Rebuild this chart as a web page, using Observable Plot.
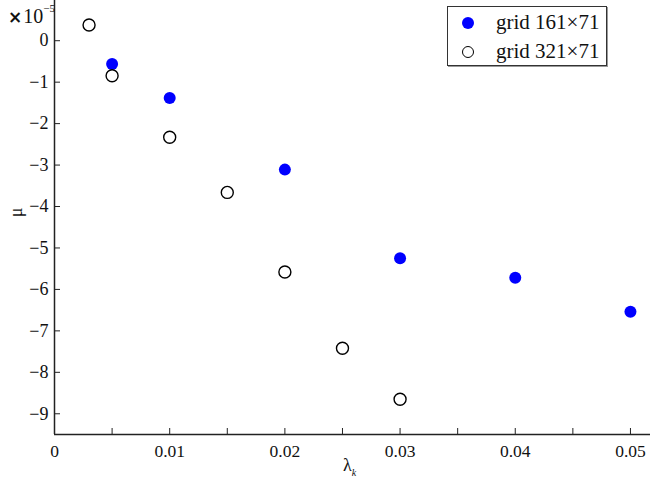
<!DOCTYPE html>
<html>
<head>
<meta charset="utf-8">
<script src="https://cdn.jsdelivr.net/npm/d3@7"></script>
<script src="https://cdn.jsdelivr.net/npm/@observablehq/plot@0.6"></script>
<style>
  html, body { margin: 0; padding: 0; background: #fff; }
  #wrap { position: relative; width: 650px; height: 482px; font-family: "Liberation Serif", "Times New Roman", serif; }
  #wrap svg { position: absolute; left: 0; top: 0; }
  .legend { position: absolute; left: 447px; top: 6px; width: 158px; height: 58px; border: 1px solid #333; background: #fff; box-shadow: 1px 1px 0 #999; }
  .legend .row { position: absolute; left: 0; height: 22px; font-size: 21px; line-height: 22px; color: #111; }
  .legend .sym { position: absolute; left: 14px; top: 5px; width: 12px; height: 12px; border-radius: 50%; box-sizing: border-box; }
  .legend .lab { position: absolute; left: 48px; top: -1px; white-space: nowrap; }
  .expo { position: absolute; left: 8px; top: 6px; font-size: 20px; line-height: 20px; color: #111; white-space: nowrap; }
  .expo .times { font-family: "DejaVu Sans", sans-serif; font-size: 17px; font-weight: bold; margin-right: 1px; }
  .expo sup { font-size: 11px; line-height: 11px; vertical-align: top; position: relative; top: -3px; }
  .ylab { position: absolute; left: 12px; top: 202px; font-size: 18px; transform: rotate(-90deg); transform-origin: center; color: #111; }
  .xlab { position: absolute; left: 343px; top: 455px; font-size: 18px; color: #111; }
  .xlab sub { font-size: 10px; font-style: italic; }
</style>
</head>
<body>
<div id="wrap"></div>
<script>
// Series: grid 161×71 (filled blue)
const lambdaA = [0.005, 0.01, 0.02, 0.03, 0.04, 0.05];
const muA     = [-0.56, -1.38, -3.11, -5.25, -5.72, -6.54];
// Series: grid 321×71 (open circles)
const lambdaB = [0.003, 0.005, 0.01, 0.015, 0.02, 0.025, 0.03];
const muB     = [0.38, -0.845, -2.33, -3.66, -5.58, -7.42, -8.65];
// Ticks
const xMajor = [0, 0.01, 0.02, 0.03, 0.04, 0.05];
const xMajorLabels = ["0", "0.01", "0.02", "0.03", "0.04", "0.05"];
const xMinor = [0, 0.005, 0.01, 0.015, 0.02, 0.025, 0.03, 0.035, 0.04, 0.045, 0.05];
const yTicks = [0, -1, -2, -3, -4, -5, -6, -7, -8, -9];
const seriesNames = ["grid 161×71", "grid 321×71"];

const dataA = lambdaA.map((x, i) => ({x, y: muA[i]}));
const dataB = lambdaB.map((x, i) => ({x, y: muB[i]}));
const xDomain = [0, 0.05174];
const yDomain = [-9.5, 0.97];
const serif = "Liberation Serif, Times New Roman, serif";

const chart = Plot.plot({
  width: 650,
  height: 482,
  marginLeft: 54,
  marginRight: 0,
  marginTop: 0,
  marginBottom: 48,
  style: {background: "transparent"},
  x: {domain: xDomain, label: null},
  y: {domain: yDomain, label: null},
  marks: [
    Plot.axisX({ticks: xMinor, tickSize: -6, text: null, stroke: "#222", label: null}),
    Plot.axisX({ticks: xMajor, tickSize: 0, tickPadding: 10, tickFormat: (d) => xMajorLabels[xMajor.indexOf(d)], fontSize: 17.5, fontFamily: serif, fill: "#111", label: null}),
    Plot.axisY({ticks: yTicks, tickSize: -6, text: null, stroke: "#222", label: null}),
    Plot.axisY({ticks: yTicks, tickSize: 0, tickPadding: 6, tickFormat: (d) => (d < 0 ? "\u2212" + (-d) : String(d)), fontSize: 18, fontFamily: serif, fill: "#111", label: null}),
    Plot.ruleY([yDomain[0]], {stroke: "#222", strokeWidth: 1.5}),
    Plot.ruleX([0], {stroke: "#222", strokeWidth: 1.5}),
    Plot.dot(dataA, {x: "x", y: "y", r: 6, fill: "#0000ff", stroke: "none"}),
    Plot.dot(dataB, {x: "x", y: "y", r: 6, fill: "none", stroke: "#000", strokeWidth: 1.4})
  ]
});
chart.querySelectorAll("text").forEach((t) => { t.style.fontFamily = serif; });

const wrap = document.getElementById("wrap");
wrap.appendChild(chart);

const expo = document.createElement("div");
expo.className = "expo";
expo.innerHTML = "<span class=\"times\">\u00d7</span>10<sup>\u22125</sup>";
wrap.appendChild(expo);

const ylab = document.createElement("div");
ylab.className = "ylab";
ylab.textContent = "\u03bc";
wrap.appendChild(ylab);

const xlab = document.createElement("div");
xlab.className = "xlab";
xlab.innerHTML = "\u03bb<sub>k</sub>";
wrap.appendChild(xlab);

const legend = document.createElement("div");
legend.className = "legend";
const styles = [
  {background: "#0000ff", border: "none"},
  {background: "#fff", border: "1.4px solid #000"}
];
seriesNames.forEach((name, i) => {
  const row = document.createElement("div");
  row.className = "row";
  row.style.top = (i === 0 ? 5 : 34) + "px";
  const sym = document.createElement("div");
  sym.className = "sym";
  Object.assign(sym.style, styles[i]);
  const lab = document.createElement("div");
  lab.className = "lab";
  lab.textContent = name;
  row.appendChild(sym);
  row.appendChild(lab);
  legend.appendChild(row);
});
wrap.appendChild(legend);
</script>
</body>
</html>
